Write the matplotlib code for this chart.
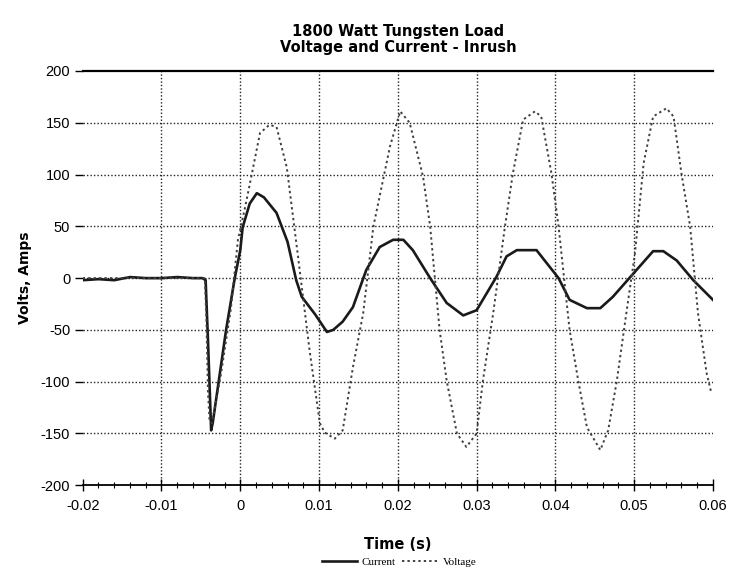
import matplotlib
matplotlib.use("Agg")
import matplotlib.pyplot as plt
from matplotlib.ticker import MultipleLocator

plt.rcParams["axes.unicode_minus"] = False

# Current (A) samples
current_t = [-0.0200, -0.0180, -0.0160, -0.0140, -0.0120, -0.0100, -0.0080, -0.0060, -0.0048,
             -0.0044, -0.0041, -0.0037, -0.0035, -0.0018, -0.0007, 0.0000, 0.0003, 0.0012, 0.0021,
             0.0030, 0.0046, 0.0060, 0.0071, 0.0078, 0.0095, 0.0110, 0.0118, 0.0130, 0.0143,
             0.0160, 0.0177, 0.0194, 0.0207, 0.0219, 0.0241, 0.0262, 0.0283, 0.0300, 0.0325,
             0.0338, 0.0351, 0.0376, 0.0404, 0.0418, 0.0440, 0.0457, 0.0473, 0.0495, 0.0524,
             0.0537, 0.0554, 0.0575, 0.0600]
current_v = [-2, -1, -2, 1, 0, 0, 1, 0, 0,
             -2, -60, -147, -140, -50, 0, 27, 49, 72, 82,
             78, 63, 35, -2, -18, -35, -52, -50, -42, -28,
             8, 30, 37, 37, 27, 0, -24, -36, -31, 1,
             21, 27, 27, 0, -21, -29, -29, -18, 1, 26,
             26, 17, -2, -21]

# Voltage (V) samples
voltage_t = [-0.0200, -0.0150, -0.0100, -0.0060, -0.0045, -0.0043, -0.0041, -0.0039, -0.0036,
             -0.0025, -0.0012, -0.0003, 0.0006, 0.0014, 0.0025, 0.0037, 0.0046, 0.0059, 0.0067,
             0.0078, 0.0088, 0.0101, 0.0107, 0.0120, 0.0130, 0.0143, 0.0156, 0.0169, 0.0190,
             0.0203, 0.0215, 0.0232, 0.0241, 0.0253, 0.0262, 0.0275, 0.0287, 0.0300, 0.0308,
             0.0321, 0.0336, 0.0346, 0.0359, 0.0374, 0.0382, 0.0395, 0.0404, 0.0418, 0.0429,
             0.0440, 0.0457, 0.0467, 0.0478, 0.0490, 0.0501, 0.0512, 0.0524, 0.0541, 0.0550,
             0.0560, 0.0571, 0.0581, 0.0592, 0.0598]
voltage_v = [0, 0, 0, 0, 0, -40, -110, -138, -140,
             -95, -30, 37, 68, 98, 140, 148, 146, 107, 59,
             -8, -70, -140, -149, -155, -147, -86, -34, 50, 127,
             161, 150, 98, 50, -50, -99, -150, -163, -150, -99,
             -34, 50, 101, 153, 161, 156, 101, 50, -50, -99,
             -144, -166, -147, -99, -34, 24, 111, 156, 164, 156,
             101, 50, -34, -92, -111]

x_ticks = [-0.02, -0.01, 0, 0.01, 0.02, 0.03, 0.04, 0.05, 0.06]
x_tick_labels = ["-0.02", "-0.01", "0", "0.01", "0.02", "0.03", "0.04", "0.05", "0.06"]
y_ticks = [-200, -150, -100, -50, 0, 50, 100, 150, 200]

fig = plt.figure(figsize=(7.32, 5.77), dpi=100)
ax = fig.add_axes([0.113, 0.159, 0.861, 0.718])

grid_style = dict(color="#222222", ls=(0, (1, 1.5)), lw=1.0, zorder=1)
ax.vlines(x_ticks[1:-1], -200, 200, **grid_style)
ax.hlines(y_ticks[1:-1], -0.02, 0.06, **grid_style)

ax.plot(current_t, current_v, color="#1a1a1a", lw=1.9, label="Current", zorder=3)
ax.plot(voltage_t, voltage_v, color="#404040", lw=1.4, ls=(0, (1.2, 1.6)),
        label="Voltage", zorder=3)

ax.set_xlim(-0.02, 0.06)
ax.set_ylim(-200, 200)
ax.set_xticks(x_ticks)
ax.set_xticklabels(x_tick_labels)
ax.set_yticks(y_ticks)
ax.xaxis.set_minor_locator(MultipleLocator(0.002))

for s in ["left", "right"]:
    ax.spines[s].set_visible(False)
ax.spines["top"].set_linewidth(1.6)
ax.spines["bottom"].set_linewidth(1.3)

for lab in ax.get_xticklabels() + ax.get_yticklabels():
    lab.set_fontfamily("Liberation Sans")
    lab.set_fontsize(10.5)
ax.tick_params(axis="x", which="major", direction="inout", length=8, width=1.0, pad=6)
ax.tick_params(axis="x", which="minor", direction="inout", length=5, width=0.8)
ax.tick_params(axis="y", which="major", direction="out", length=6, width=1.0, pad=3)

ax.set_title("1800 Watt Tungsten Load\nVoltage and Current - Inrush",
             fontsize=10.5, fontweight="heavy", family="DejaVu Sans", pad=14,
             linespacing=1.05)
ax.set_xlabel("Time (s)", fontsize=10.5, fontweight="heavy", family="DejaVu Sans", labelpad=17)
ax.set_ylabel("Volts, Amps", fontsize=10, fontweight="heavy", family="DejaVu Sans", labelpad=6)

fig.legend(loc="lower center", bbox_to_anchor=(0.545, 0.0), ncol=2, frameon=False,
           prop=dict(family="Liberation Serif", size=8), handlelength=3.2,
           columnspacing=0.6, handletextpad=0.4)

fig.savefig("out.png", dpi=100)
